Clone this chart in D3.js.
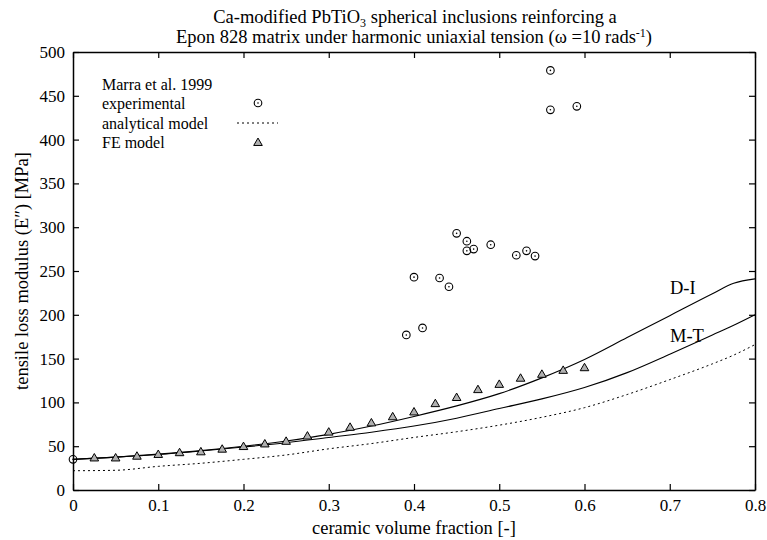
<!DOCTYPE html>
<html>
<head>
<meta charset="utf-8">
<script src="https://cdn.jsdelivr.net/npm/d3@7"></script>
<style>
	body { margin: 0; background: #fff; }
	text { font-family: "Liberation Serif", "DejaVu Serif", serif; fill: #000; }
</style>
</head>
<body>
<div id="chart"></div>
<script>
var xTicks = [0, 0.1, 0.2, 0.3, 0.4, 0.5, 0.6, 0.7, 0.8];
var yTicks = [0, 50, 100, 150, 200, 250, 300, 350, 400, 450, 500];

// model curves
var modelX = [0, 0.05, 0.1, 0.15, 0.2, 0.25, 0.3, 0.35, 0.4, 0.45, 0.5, 0.55, 0.6, 0.65, 0.7, 0.75, 0.775, 0.8];
var diVals = [35, 37.5, 41, 45, 50, 56, 63.5, 73, 84, 96, 110, 128, 149, 174, 199, 224, 236, 241];
var mtVals = [35, 37.5, 40.5, 44.5, 49, 54, 60, 66, 73, 82, 93, 104, 117, 134, 155, 177, 188, 200];
var analyticVals = [22, 22.5, 27, 30.5, 35, 40, 47, 53, 60, 66.5, 74, 83, 94, 109, 126, 144, 154, 166];

// FE model
var feX = [0.025, 0.05, 0.075, 0.1, 0.125, 0.15, 0.175, 0.2, 0.225, 0.25, 0.275, 0.3, 0.325, 0.35, 0.375, 0.4, 0.425, 0.45, 0.475, 0.5, 0.525, 0.55, 0.575, 0.6];
var feVals = [36, 36, 38, 40, 42, 43, 46, 49, 52, 55, 61, 65.5, 71, 76, 83, 88.5, 98, 105, 114, 120, 127, 131.5, 136, 139];

// experimental (Marra et al. 1999)
var expX = [0, 0.391, 0.400, 0.410, 0.430, 0.441, 0.450, 0.462, 0.462, 0.470, 0.490, 0.520, 0.532, 0.542, 0.560, 0.560, 0.591];
var expVals = [35, 177, 243, 185, 242, 232, 293, 284, 273, 275, 280, 268, 273, 267, 479, 434, 438];

var svgWidth = 767, svgHeight = 540;
var plotLeft = 73, plotRight = 755, plotTop = 52, plotBottom = 490;

var svg = d3.select("#chart").append("svg")
	.attr("width", svgWidth)
	.attr("height", svgHeight);

var x = d3.scaleLinear().domain([0, 0.8]).range([plotLeft, plotRight]);
var y = d3.scaleLinear().domain([0, 500]).range([plotBottom, plotTop]);

// axes, ticks pointing inward
svg.append("g").attr("transform", "translate(0," + plotBottom + ")")
	.call(d3.axisBottom(x).tickValues(xTicks).tickSizeInner(-6).tickSizeOuter(0).tickPadding(9)
		.tickFormat(function (d) { return d === 0 ? "0" : d3.format(".1f")(d); }));
svg.append("g").attr("transform", "translate(" + plotLeft + ",0)")
	.call(d3.axisLeft(y).tickValues(yTicks).tickSizeInner(-6).tickSizeOuter(0).tickPadding(8));
svg.append("g").attr("transform", "translate(0," + plotTop + ")")
	.call(d3.axisTop(x).tickValues(xTicks).tickSizeInner(-6).tickSizeOuter(0).tickFormat(""));
svg.append("g").attr("transform", "translate(" + plotRight + ",0)")
	.call(d3.axisRight(y).tickValues(yTicks).tickSizeInner(-6).tickSizeOuter(0).tickFormat(""));

svg.selectAll(".tick text").style("font-size", "17px").style("font-family", "Liberation Serif, serif");
svg.selectAll(".domain").attr("stroke", "#000").attr("stroke-width", 1.5);
svg.selectAll(".tick line").attr("stroke", "#000").attr("stroke-width", 1.2);

// titles
var title = svg.append("text").attr("x", 415).attr("y", 23).attr("text-anchor", "middle").style("font-size", "18.5px");
title.append("tspan").text("Ca-modified PbTiO");
title.append("tspan").attr("dy", 4).style("font-size", "12px").text("3");
title.append("tspan").attr("dy", -4).text(" spherical inclusions reinforcing a");

var title2 = svg.append("text").attr("x", 414).attr("y", 43).attr("text-anchor", "middle").style("font-size", "18.5px");
title2.append("tspan").text("Epon 828 matrix under harmonic uniaxial tension (\u03c9 =10 rads");
title2.append("tspan").attr("dy", -6).style("font-size", "12px").text("-1");
title2.append("tspan").attr("dy", 6).text(")");

svg.append("text")
	.attr("x", (plotLeft + plotRight) / 2)
	.attr("y", 534)
	.attr("text-anchor", "middle")
	.style("font-size", "18.5px")
	.text("ceramic volume fraction [-]");

svg.append("text")
	.attr("transform", "translate(28," + ((plotTop + plotBottom) / 2) + ") rotate(-90)")
	.attr("text-anchor", "middle")
	.style("font-size", "18.5px")
	.text("tensile loss modulus (E\u2033) [MPa]");

// curves
var line = d3.line()
	.x(function (d) { return x(d[0]); })
	.y(function (d) { return y(d[1]); })
	.curve(d3.curveMonotoneX);

function pairs(xs, ys) {
	return xs.map(function (v, i) { return [v, ys[i]]; });
}

svg.append("path").datum(pairs(modelX, diVals))
	.attr("d", line).attr("fill", "none").attr("stroke", "#000").attr("stroke-width", 1.1);
svg.append("path").datum(pairs(modelX, mtVals))
	.attr("d", line).attr("fill", "none").attr("stroke", "#000").attr("stroke-width", 1.1);
svg.append("path").datum(pairs(modelX, analyticVals))
	.attr("d", line).attr("fill", "none").attr("stroke", "#000").attr("stroke-width", 1)
	.attr("stroke-dasharray", "2,3");

svg.append("text").attr("x", 670).attr("y", 294).style("font-size", "18.5px").text("D-I");
svg.append("text").attr("x", 670).attr("y", 342).style("font-size", "18.5px").text("M-T");

// FE triangles
var tri = d3.symbol().type(d3.symbolTriangle).size(32);
svg.selectAll(".fe").data(pairs(feX, feVals)).enter().append("path")
	.attr("class", "fe")
	.attr("d", tri)
	.attr("transform", function (d) { return "translate(" + x(d[0]) + "," + y(d[1]) + ")"; })
	.attr("fill", "#b0b0b0").attr("stroke", "#000").attr("stroke-width", 1);

// experimental circles
function drawCircle(g, cx, cy) {
	g.append("circle").attr("cx", cx).attr("cy", cy).attr("r", 3.8)
		.attr("fill", "none").attr("stroke", "#000").attr("stroke-width", 1.1);
	g.append("circle").attr("cx", cx).attr("cy", cy).attr("r", 0.8).attr("fill", "#000");
}
var expG = svg.append("g");
pairs(expX, expVals).forEach(function (d) { drawCircle(expG, x(d[0]), y(d[1])); });

// legend
var lg = svg.append("g").style("font-size", "16px");
lg.append("text").attr("x", 102).attr("y", 90).text("Marra et al. 1999");
lg.append("text").attr("x", 102).attr("y", 109).text("experimental");
lg.append("text").attr("x", 102).attr("y", 129).text("analytical model");
lg.append("text").attr("x", 102).attr("y", 148).text("FE model");
drawCircle(lg, 258, 103);
lg.append("line").attr("x1", 237).attr("x2", 278).attr("y1", 123).attr("y2", 123)
	.attr("stroke", "#000").attr("stroke-dasharray", "2,3");
lg.append("path").attr("d", tri).attr("transform", "translate(258,143)")
	.attr("fill", "#b0b0b0").attr("stroke", "#000");
</script>
</body>
</html>
